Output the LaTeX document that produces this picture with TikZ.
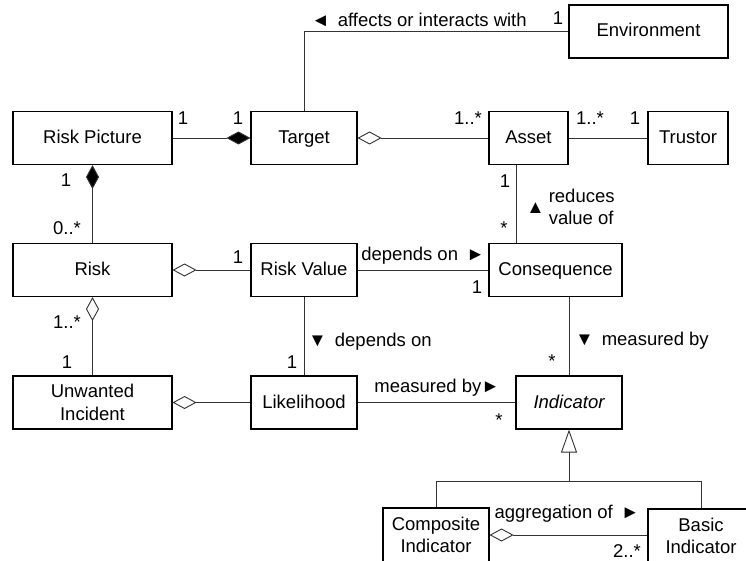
\documentclass[tikz,border=0pt]{standalone}
\usepackage{fontspec}
\setmainfont{Liberation Sans}
\usetikzlibrary{arrows.meta}
\newcommand\umlfont{\fontsize{18.5}{22.5}\selectfont}

\begin{document}
\begin{tikzpicture}[x=1pt, y=-1pt, line width=0.9pt, draw=black!80,
  classbox/.style={draw=black, line width=1.1pt, minimum height=53pt, inner sep=0pt,
    text height=14.5pt, text depth=3.5pt, align=center, font=\umlfont},
  twoline/.style={text height=, text depth=},
  lbl/.style={inner sep=0pt, font=\umlfont, anchor=base},
  composition/.style={-{Diamond[length=24pt, width=13pt, fill=black]}},
  aggregation/.style={-{Diamond[open, length=24pt, width=13pt]}},
  generalization/.style={-{Triangle[open, length=23pt, width=16pt]}}]

\useasboundingbox (0,0) rectangle (746,561);
\clip (0,0) rectangle (746,561);
\fill[white] (0,0) rectangle (746,561);

% classes
\node[classbox, minimum width=159pt] (env)   at (648.5,31.5) {Environment};
\node[classbox, minimum width=159pt] (rpic)  at (92.5,138)   {Risk Picture};
\node[classbox, minimum width=106pt] (target) at (304,138)   {Target};
\node[classbox, minimum width=79pt]  (asset) at (528.5,138)  {Asset};
\node[classbox, minimum width=80pt]  (trustor) at (688,138)  {Trustor};
\node[classbox, minimum width=159pt] (risk)  at (92.5,270)   {Risk};
\node[classbox, minimum width=106pt] (rval)  at (304,270)    {Risk Value};
\node[classbox, minimum width=133pt] (cons)  at (555.5,270)  {Consequence};
\node[classbox, twoline, minimum width=159pt] (ui) at (92.5,402.5) {Unwanted\\Incident};
\node[classbox, minimum width=106pt] (lik)   at (304,402.5)  {Likelihood};
\node[classbox, minimum width=106pt] (ind)   at (569,402.5)  {\itshape Indicator};
\node[classbox, twoline, minimum width=106pt, minimum height=54pt] (comp) at (436,535) {Composite\\Indicator};
\node[classbox, twoline, minimum width=106pt, minimum height=54pt] (basic) at (701,536) {Basic\\Indicator};

% associations
\draw (target.north) |- (env.west);
\draw[composition] (rpic) -- (target);
\draw[aggregation] (asset) -- (target);
\draw (asset) -- (trustor);
\draw[composition] (risk) -- (rpic);
\coordinate (aleg) at ([xshift=-12.5pt]asset.south);
\draw (aleg) -- (aleg |- cons.north);
\draw[aggregation] (rval) -- (risk);
\draw (rval) -- (cons);
\draw[aggregation] (ui) -- (risk);
\draw (rval) -- (lik);
\draw (ind.north |- cons.south) -- (ind.north);
\draw[aggregation] (lik) -- (ui);
\draw (lik) -- (ind);
\draw[aggregation] (basic.west |- comp.east) -- (comp.east);

% generalization
\coordinate (gj) at ([yshift=-52pt]ind.south);
\draw[generalization] (gj) -- (ind.south);
\draw (comp.north) |- (gj) -| (basic.north);

% association names and multiplicities
\node[lbl] (naff)  at (419,27)  {◄\, affects or interacts with};
\node[lbl] (menv)  at (558,25)  {1};
\node[lbl] (mrp1)  at (183,125) {1};
\node[lbl] (mtg1)  at (238,125) {1};
\node[lbl] (mas1)  at (468,125) {1..*};
\node[lbl] (mas2)  at (590,125) {1..*};
\node[lbl] (mtr)   at (635,125) {1};
\node[lbl] (mrp2)  at (66,187)  {1};
\node[lbl] (mrk1)  at (67,235)  {0..*};
\node[lbl] (mas3)  at (505,188) {1};
\node[lbl] (mcn1)  at (504,235) {*};
\node[lbl, anchor=west] (nred) at (526,209)
  {▲\hspace{4pt}\begin{tabular}{@{}l@{}}reduces\\value of\end{tabular}};
\node[lbl] (mrv1)  at (238,263) {1};
\node[lbl] (ndep1) at (423,260) {depends on \,►};
\node[lbl] (mcn2)  at (477,293) {1};
\node[lbl] (mrk2)  at (67,328)  {1..*};
\node[lbl] (mui)   at (67,368)  {1};
\node[lbl] (ndep2) at (370,346) {▼\, depends on};
\node[lbl] (mlk)   at (292,368) {1};
\node[lbl] (nmeas1) at (642,345) {▼\, measured by};
\node[lbl] (mind1) at (552,367) {*};
\node[lbl] (nmeas2) at (437,392) {measured by►};
\node[lbl] (mind2) at (499,426) {*};
\node[lbl] (nagg)  at (567,518) {aggregation of \,►};
\node[lbl] (mbas)  at (627,557) {2..*};

\end{tikzpicture}
\end{document}
